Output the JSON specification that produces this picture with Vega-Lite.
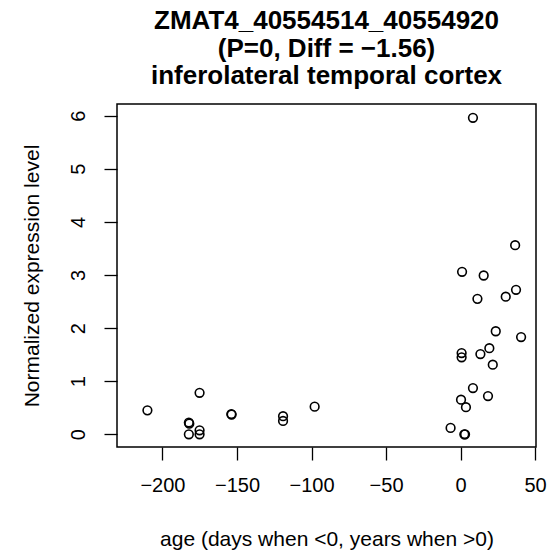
{
  "$schema": "https://vega.github.io/schema/vega-lite/v6.json",
  "width": 419,
  "height": 343,
  "autosize": {"type": "none"},
  "padding": {"left": 117, "top": 104, "right": 23, "bottom": 106},
  "background": "white",
  "config": {
    "font": "Liberation Sans",
    "view": {"stroke": "black", "strokeWidth": 1.5},
    "axis": {"grid": false, "domain": false, "tickColor": "black", "tickWidth": 1.3, "tickSize": 13, "labelColor": "black", "titleColor": "black", "labelFont": "Liberation Sans", "titleFont": "Liberation Sans", "labelFontSize": 20, "titleFontSize": 21, "titleFontWeight": "normal"}
  },
  "title": {
    "text": ["ZMAT4_40554514_40554920", "(P=0, Diff = \u22121.56)", "inferolateral temporal cortex"],
    "font": "Liberation Sans",
    "fontSize": 26,
    "fontWeight": "bold",
    "color": "black",
    "anchor": "middle",
    "frame": "group",
    "lineHeight": 27.5,
    "offset": 15
  },
  "data": {
    "values": [
      {"age": -210.1, "expr": 0.45},
      {"age": -182.3, "expr": 0.22},
      {"age": -182.0, "expr": 0.20},
      {"age": -182.3, "expr": 0.0},
      {"age": -175.1, "expr": 0.78},
      {"age": -175.1, "expr": 0.075},
      {"age": -175.1, "expr": 0.0},
      {"age": -153.8, "expr": 0.38},
      {"age": -153.6, "expr": 0.37},
      {"age": -119.1, "expr": 0.34},
      {"age": -119.1, "expr": 0.25},
      {"age": -97.9, "expr": 0.52},
      {"age": 8.3, "expr": 5.96},
      {"age": 36.6, "expr": 3.56},
      {"age": 1.0, "expr": 3.06},
      {"age": 15.5, "expr": 2.99},
      {"age": 37.2, "expr": 2.72},
      {"age": 30.3, "expr": 2.59},
      {"age": 11.3, "expr": 2.55},
      {"age": 23.6, "expr": 1.94},
      {"age": 40.6, "expr": 1.83},
      {"age": 19.3, "expr": 1.62},
      {"age": 0.7, "expr": 1.53},
      {"age": 0.7, "expr": 1.45},
      {"age": 13.3, "expr": 1.51},
      {"age": 21.6, "expr": 1.31},
      {"age": 8.3, "expr": 0.87},
      {"age": 18.4, "expr": 0.72},
      {"age": 0.3, "expr": 0.65},
      {"age": 3.6, "expr": 0.51},
      {"age": -6.7, "expr": 0.12},
      {"age": 2.5, "expr": 0.0},
      {"age": 3.0, "expr": 0.0}
    ]
  },
  "mark": {"type": "point", "shape": "circle", "filled": false, "stroke": "black", "strokeWidth": 1.6, "size": 75, "opacity": 1},
  "encoding": {
    "x": {
      "field": "age", "type": "quantitative",
      "scale": {"domain": [-230.5, 50.6], "nice": false, "zero": false},
      "axis": {"values": [-200, -150, -100, -50, 0, 50], "format": "d", "labelExpr": "replace(datum.label, '-', '\u2212')", "labelPadding": 15, "labelFlush": false, "labelOverlap": false, "title": "age (days when <0, years when >0)", "titlePadding": 33}
    },
    "y": {
      "field": "expr", "type": "quantitative",
      "scale": {"domain": [-0.24, 6.22], "nice": false, "zero": false},
      "axis": {"values": [0, 1, 2, 3, 4, 5, 6], "labelAngle": -90, "labelAlign": "center", "labelBaseline": "alphabetic", "labelPadding": 20, "labelFlush": false, "labelOverlap": false, "title": "Normalized expression level", "titlePadding": 26}
    }
  }
}
